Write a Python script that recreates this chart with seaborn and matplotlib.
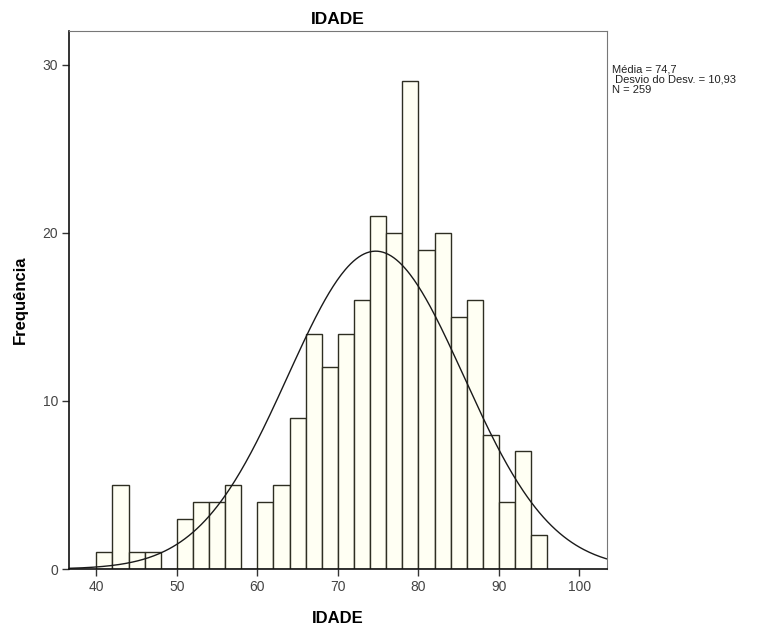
import matplotlib.pyplot as plt
import numpy as np
import seaborn as sns

# histogram of IDADE (age), bins of width 2 starting at 40
bin_left = [40, 42, 44, 46, 48, 50, 52, 54, 56, 58, 60, 62, 64, 66,
            68, 70, 72, 74, 76, 78, 80, 82, 84, 86, 88, 90, 92, 94]
counts = [1, 5, 1, 1, 0, 3, 4, 4, 5, 0, 4, 5, 9, 14,
          12, 14, 16, 21, 20, 29, 19, 20, 15, 16, 8, 4, 7, 2]
bin_width = 2
mean_age = 74.7
sd_age = 10.93
n_total = 259
x_ticks = [40, 50, 60, 70, 80, 90, 100]
y_ticks = [0, 10, 20, 30]

sns.set_style("ticks")
plt.rcParams['font.family'] = ['Liberation Sans', 'DejaVu Sans']
plt.rcParams['text.color'] = 'black'
plt.rcParams['axes.labelcolor'] = 'black'

fig = plt.figure(figsize=(7.76, 6.28), dpi=100)
ax = fig.add_axes([0.0889, 0.0939, 0.6931, 0.8567])

edges = list(bin_left) + [bin_left[-1] + bin_width]
centers = [b + bin_width / 2 for b in bin_left]
sns.histplot(x=centers, weights=counts, bins=edges, ax=ax,
             color='#fffff3', edgecolor='#2e2e22', linewidth=1.0, alpha=1)

# normal curve scaled to the histogram
xs = np.linspace(36.6, 103.4, 400)
ys = n_total * bin_width / (sd_age * np.sqrt(2 * np.pi)) * np.exp(-0.5 * ((xs - mean_age) / sd_age) ** 2)
ax.plot(xs, ys, color='#1a1a1a', linewidth=1.0)

ax.set_xlim(36.6, 103.4)
ax.set_ylim(0, 32)
ax.set_xticks(x_ticks)
ax.set_yticks(y_ticks)
ax.tick_params(axis='both', direction='out', length=5, width=1, color='#333333',
               labelsize=10, labelcolor='#444444', pad=3,
               bottom=True, left=True, top=False, right=False)

for side in ['left', 'bottom']:
    ax.spines[side].set_color('#111111')
    ax.spines[side].set_linewidth(1.2)
for side in ['top', 'right']:
    ax.spines[side].set_visible(True)
    ax.spines[side].set_color('#777777')
    ax.spines[side].set_linewidth(0.8)

ax.set_title('IDADE', fontsize=12.5, fontweight='bold', pad=5)
ax.set_xlabel('IDADE', fontsize=12, fontweight='bold', labelpad=12)
ax.set_ylabel('Frequência', fontsize=12, fontweight='bold', labelpad=10)

fig.text(0.789, 0.897, 'Média = 74,7\n Desvio do Desv. = 10,93\nN = 259',
         fontsize=8, va='top', ha='left', color='#222222', linespacing=1.0)

fig.savefig('out.png', dpi=100)
